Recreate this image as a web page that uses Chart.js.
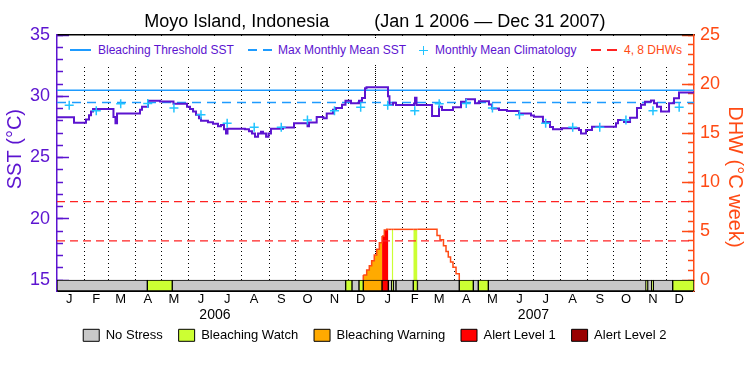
<!DOCTYPE html>
<html>
<head>
<meta charset="utf-8">
<script src="https://cdn.jsdelivr.net/npm/chart.js@4/dist/chart.umd.min.js"></script>
<style>
    html, body { margin: 0; padding: 0; background: #fff; }
    #wrap { position: relative; width: 750px; height: 375px; }
    #sstChart { display: block; }
    #legendBand { position: absolute; left: 64px; top: 38px; width: 623px; height: 26px; background: #fff; }
    .lg-text { position: absolute; top: 43px; font: 12px 'Liberation Sans', Arial, sans-serif; line-height: 14px; color: #5c14d0; white-space: nowrap; }
    .lg-line { position: absolute; top: 49px; height: 1.5px; }
    .lg-plus-h { position: absolute; left: 419px; top: 49.5px; width: 9px; height: 1.5px; background: #22c4ff; }
    .lg-plus-v { position: absolute; left: 422.8px; top: 45.5px; width: 1.5px; height: 9px; background: #22c4ff; }
</style>
</head>
<body>
<div id="wrap">
    <canvas id="sstChart" width="750" height="375"></canvas>
    <div id="legendBand"></div>
    <div class="lg-line" style="left:70px;width:21px;background:#1e9bff"></div>
    <div class="lg-text" style="left:98px">Bleaching Threshold SST</div>
    <div class="lg-line" style="left:248px;width:24px;background:repeating-linear-gradient(to right,#1e9bff 0 9px,transparent 9px 15px)"></div>
    <div class="lg-text" style="left:278px">Max Monthly Mean SST</div>
    <div class="lg-plus-h"></div><div class="lg-plus-v"></div>
    <div class="lg-text" style="left:435px">Monthly Mean Climatology</div>
    <div class="lg-line" style="left:591px;width:26px;background:repeating-linear-gradient(to right,#ff2222 0 10px,transparent 10px 16px)"></div>
    <div class="lg-text" style="left:624px;color:#ff4a14">4, 8 DHWs</div>
</div>
<script>
const FONT = "'Liberation Sans', Arial, sans-serif";
Chart.defaults.font.family = FONT;

const PURPLE = '#5c14d0';
const ORANGE = '#ff4a14';
const BLUE = '#1e9bff';
const CYAN = '#22c4ff';
const RED = '#ff2222';

// day 0 = Jan 1 2006, 730 = Dec 31 2007 (end)
const DAYS_TOTAL = 730;
const DHW_MIN = -1.12;                 // room below DHW 0 for the stress strip
const SST_MIN = 15 + DHW_MIN * 0.8;    // left axis: 15 degC lines up with DHW 0
const STRIP_ROW = DHW_MIN / 2;

const bleachingThreshold = 30.5;
const maxMonthlyMean = 29.5;
const dhwLevels = [4, 8];

// SST, each value holds until the next day listed
const sstDays = [0, 19.5, 33.2, 36.7, 39.0, 41.3, 64.7, 67.0, 68.8, 95.1,
    97.4, 104.3, 118.0, 133.5, 149.0, 152.4, 155.9, 159.3, 162.7, 165.0,
    173.0, 178.8, 184.5, 187.9, 191.4, 193.7, 195.4, 215.4, 220.0, 223.5,
    226.9, 230.4, 233.8, 236.1, 239.6, 242.4, 245.2, 259.0, 271.6, 287.1,
    288.8, 297.6, 305.2, 309.1, 316.3, 319.7, 326.6, 330.6, 336.9, 346.1,
    349.5, 353.0, 354.7, 379.3, 381.0, 385.1, 388.5, 409.1, 410.3, 412.0,
    429.8, 437.8, 441.2, 453.8, 463.0, 468.7, 479.0, 483.6, 495.1, 498.5,
    506.5, 515.7, 529.5, 543.2, 546.6, 556.9, 565.0, 568.4, 578.7, 598.2,
    600.5, 606.2, 613.1, 640.6, 642.9, 649.8, 656.7, 664.7, 669.3, 673.8,
    680.7, 684.2, 687.6, 692.2, 701.4, 707.1, 712.8, 730];
const sstValues = [28.28, 27.84, 28.1, 28.45, 28.75, 28.95, 28.3, 27.8, 28.6, 28.9,
    29.15, 29.64, 29.58, 29.38, 29.15, 28.95, 28.75, 28.5, 28.2, 28.0,
    27.88, 27.75, 27.55, 27.65, 27.3, 26.95, 27.35, 27.3, 27.15, 26.95,
    26.7, 26.95, 27.1, 26.95, 26.7, 26.95, 27.35, 27.45, 27.8, 27.55,
    27.85, 28.3, 28.2, 28.6, 28.9, 29.05, 29.3, 29.64, 29.42, 29.64,
    29.85, 30.65, 30.73, 30.0, 29.3, 29.48, 29.29, 29.4, 29.87, 29.29,
    28.39, 29.15, 28.88, 29.1, 29.56, 29.75, 29.42, 29.6, 29.32, 29.0,
    28.88, 28.8, 28.6, 28.42, 28.33, 27.9, 27.5, 27.3, 27.38, 27.25,
    26.97, 27.25, 27.52, 27.8, 28.06, 27.9, 28.25, 29.05, 29.3, 29.56,
    29.65, 29.42, 29.15, 28.75, 29.42, 29.83, 30.3, 30.3];

// monthly mean climatology, Jan..Dec, plotted on the 15th of each month
const climatology = [29.27, 28.82, 29.38, 29.4, 29.05, 28.5, 27.8, 27.48, 27.48, 28.06, 28.82, 29.1];

// degree heating weeks, value holds until the next day listed
const dhwDays = [351.0, 351.0, 354.9, 357.9, 360.6, 363.6, 366.4, 369.4, 372.5, 375.1,
    377.8, 379.7, 383.6, 385.4, 408.3, 413.1, 435.5, 438.9, 442.9, 445.8,
    448.4, 451.0, 453.8, 457.3, 461.0];
const dhwValues = [0, 0.51, 1.02, 1.46, 1.97, 2.55, 3.13, 3.81, 4.49, 5.1,
    5.17, 5.17, 5.17, 5.17, 5.17, 5.17, 4.55, 4.1, 3.5, 2.9,
    2.35, 1.85, 1.3, 0.65, 0];
const dhwAlert = [0, 2, 2, 2, 2, 2, 2, 2, 3, 3,
    3, 0, 1, 0, 1, 0, 0, 0, 0, 0,
    0, 0, 0, 0, 0];

// stress level strip along the bottom
const stressBreaks = [0, 103.5, 132.1, 330.8, 338.1, 346.1, 351.0, 372.5, 379.7, 383.6,
    385.4, 388.5, 408.3, 413.1, 461.0, 477.1, 482.8, 494.3, 675.0, 676.9,
    681.5, 683.4, 705.6, 730];
const stressLevel = [0, 1, 0, 1, 0, 1, 2, 3, 0, 1,
    0, 0, 1, 0, 1, 0, 1, 0, 1, 0,
    1, 0, 1];

const stressNames = ['No Stress', 'Bleaching Watch', 'Bleaching Warning', 'Alert Level 1', 'Alert Level 2'];
const stressColors = ['#c8c8c8', '#ccff33', '#ffaa00', '#ff0000', '#990000'];
const dhwFill = ['rgba(0,0,0,0)', '#ccff33', '#ffaa00', '#ff0000', '#990000'];

const monthLetters = ['J', 'F', 'M', 'A', 'M', 'J', 'J', 'A', 'S', 'O', 'N', 'D'];
const yearLabels = ['2006', '2007'];

// calendar: first day of each month, counted from Jan 1 2006
const monthStarts = [];
for (let m = 0; m < 24; m++) {
    monthStarts.push(Math.round((Date.UTC(2006, m, 1) - Date.UTC(2006, 0, 1)) / 86400000));
}

// bottom axis ticks: month letter mid-month, year under Jul 1
const xTicks = [];
monthStarts.forEach((d, i) => {
    if (i % 12 === 6) xTicks.push({ value: d, label: ['', yearLabels[Math.floor(i / 12)]], year: true });
    xTicks.push({ value: d + 14, label: monthLetters[i % 12], year: false });
});

const NB = '\u00a0';

const ctx = document.getElementById('sstChart');

new Chart(ctx, {
    type: 'line',
    data: {
        datasets: [
            {
                label: 'SST',
                data: sstDays.map((d, i) => ({ x: d, y: sstValues[i] })),
                yAxisID: 'sst',
                borderColor: PURPLE,
                borderWidth: 2,
                stepped: true,
                pointRadius: 0,
                fill: false,
                order: 2
            },
            {
                label: 'Monthly Mean Climatology',
                data: monthStarts.map((d, i) => ({ x: d + 14, y: climatology[i % 12] })),
                yAxisID: 'sst',
                showLine: false,
                pointStyle: 'cross',
                pointRadius: 4.5,
                borderColor: CYAN,
                pointBorderWidth: 1.5,
                order: 1
            },
            {
                label: 'Bleaching Threshold SST',
                data: [{ x: 0, y: bleachingThreshold }, { x: DAYS_TOTAL, y: bleachingThreshold }],
                yAxisID: 'sst',
                borderColor: BLUE,
                borderWidth: 1.5,
                pointRadius: 0,
                order: 4
            },
            {
                label: 'Max Monthly Mean SST',
                data: [{ x: 0, y: maxMonthlyMean }, { x: DAYS_TOTAL, y: maxMonthlyMean }],
                yAxisID: 'sst',
                borderColor: BLUE,
                borderWidth: 1.5,
                borderDash: [9, 6],
                pointRadius: 0,
                order: 4
            },
            ...dhwLevels.map(v => ({
                label: v + ' DHW',
                data: [{ x: 0, y: v }, { x: DAYS_TOTAL, y: v }],
                yAxisID: 'dhw',
                borderColor: RED,
                borderWidth: 1.3,
                borderDash: [8, 5],
                pointRadius: 0,
                order: 3
            })),
            {
                label: 'Stress',
                type: 'bar',
                indexAxis: 'y',
                xAxisID: 'x',
                yAxisID: 'dhw',
                data: stressLevel.map((lv, i) => ({ x: [stressBreaks[i], stressBreaks[i + 1]], y: STRIP_ROW })),
                backgroundColor: stressLevel.map(lv => stressColors[lv]),
                borderColor: '#000',
                borderWidth: 1,
                borderSkipped: false,
                barThickness: 11,
                order: 6
            },
            {
                label: 'DHW',
                data: dhwDays.map((d, i) => ({ x: d, y: dhwValues[i] })),
                yAxisID: 'dhw',
                borderColor: ORANGE,
                borderWidth: 1.5,
                stepped: true,
                pointRadius: 0,
                fill: { value: 0 },
                backgroundColor: 'rgba(0,0,0,0)',
                segment: {
                    backgroundColor: c => dhwFill[dhwAlert[c.p0DataIndex]]
                },
                order: 7
            }
        ]
    },
    options: {
        responsive: false,
        devicePixelRatio: 1,
        animation: false,
        events: [],
        layout: {
            padding: { left: 0, right: 0.4, top: 0, bottom: 23.2 }
        },
        plugins: {
            title: {
                display: true,
                text: 'Moyo Island, Indonesia         (Jan 1 2006 \u2014 Dec 31 2007)',
                color: '#000',
                font: { size: 18, weight: 'normal' },
                padding: { top: 11, bottom: 2.4 }
            },
            legend: {
                position: 'bottom',
                onClick: () => {},
                labels: {
                    boxWidth: 16,
                    boxHeight: 12,
                    padding: 5,
                    color: '#000',
                    font: { size: 13 },
                    // trailing spaces widen the gap between items
                    generateLabels: () => stressNames.map((name, i) => ({
                        text: i < stressNames.length - 1 ? name + NB + NB + NB : name,
                        fillStyle: stressColors[i],
                        strokeStyle: '#000',
                        lineWidth: 1,
                        hidden: false,
                        index: i
                    }))
                }
            },
            tooltip: { enabled: false }
        },
        scales: {
            x: {
                type: 'linear',
                axis: 'x',
                position: 'bottom',
                min: 0,
                max: DAYS_TOTAL,
                weight: 0,
                afterBuildTicks: s => { s.ticks = xTicks.map(t => ({ value: t.value })); },
                grid: { display: false, drawTicks: false },
                border: { display: true, color: '#000', width: 1 },
                ticks: {
                    autoSkip: false,
                    maxRotation: 0,
                    padding: 1,
                    color: '#000',
                    font: c => (xTicks[c.index] && xTicks[c.index].year) ? { size: 14, lineHeight: 1.1 } : { size: 13 },
                    callback: (v, i) => xTicks[i].label
                }
            },
            // month boundaries, dotted
            xm: {
                type: 'linear',
                axis: 'x',
                position: 'top',
                min: 0,
                max: DAYS_TOTAL,
                weight: 0,
                afterBuildTicks: s => { s.ticks = monthStarts.filter(d => d > 0).map(d => ({ value: d })); },
                ticks: { display: false },
                grid: { drawTicks: false, color: '#000', lineWidth: 1 },
                border: {
                    display: false,
                    dash: c => c.tick ? (c.tick.value === monthStarts[12] ? [1, 1] : [1, 3]) : []
                }
            },
            // top frame line
            xt: {
                type: 'linear',
                axis: 'x',
                position: 'top',
                min: 0,
                max: DAYS_TOTAL,
                weight: 1,
                ticks: { display: false },
                grid: { display: false, drawTicks: false },
                border: { display: true, color: '#000', width: 1.5 }
            },
            sst: {
                type: 'linear',
                axis: 'y',
                position: 'left',
                min: SST_MIN,
                max: 35,
                weight: 1,
                afterBuildTicks: s => { s.ticks = s.ticks.filter(t => t.value >= 15); },
                afterFit: s => { s.width = 57; },
                ticks: { stepSize: 5, includeBounds: false, padding: 19, color: PURPLE, font: { size: 18 } },
                grid: { drawOnChartArea: false, tickLength: -12, tickColor: PURPLE, tickWidth: 1.5 },
                border: { color: PURPLE, width: 1.5 },
                title: {
                    display: true,
                    text: NB.repeat(5) + 'SST (\u00b0C)',
                    color: PURPLE,
                    font: { size: 20 },
                    padding: { top: 3, bottom: 3 }
                }
            },
            sstMinor: {
                type: 'linear',
                axis: 'y',
                position: 'left',
                display: true,
                min: SST_MIN,
                max: 35,
                weight: 0,
                afterBuildTicks: s => { s.ticks = s.ticks.filter(t => t.value >= 15); },
                afterFit: s => { s.width = 0; },
                ticks: { display: false, stepSize: 1, includeBounds: false },
                grid: { drawOnChartArea: false, tickLength: -6, tickColor: PURPLE, tickWidth: 1.5 },
                border: { display: false }
            },
            dhw: {
                type: 'linear',
                axis: 'y',
                position: 'right',
                min: DHW_MIN,
                max: 25,
                weight: 1,
                offset: false,
                afterBuildTicks: s => { s.ticks = s.ticks.filter(t => t.value >= 0); },
                afterFit: s => { s.width = 55.6; },
                ticks: { stepSize: 5, includeBounds: false, padding: 18, color: ORANGE, font: { size: 18 } },
                grid: { offset: false, drawOnChartArea: false, tickLength: -12, tickColor: ORANGE, tickWidth: 1.5 },
                border: { color: ORANGE, width: 1.5 },
                title: {
                    display: true,
                    text: NB.repeat(5) + 'DHW (\u00b0C week)',
                    color: ORANGE,
                    font: { size: 20 },
                    padding: { top: 3, bottom: 3 }
                }
            },
            dhwMinor: {
                type: 'linear',
                axis: 'y',
                position: 'right',
                display: true,
                min: DHW_MIN,
                max: 25,
                weight: 0,
                afterBuildTicks: s => { s.ticks = s.ticks.filter(t => t.value >= 0); },
                afterFit: s => { s.width = 0; },
                ticks: { display: false, stepSize: 1, includeBounds: false },
                grid: { drawOnChartArea: false, tickLength: -6, tickColor: ORANGE, tickWidth: 1.5 },
                border: { display: false }
            }
        }
    }
});
</script>
</body>
</html>
